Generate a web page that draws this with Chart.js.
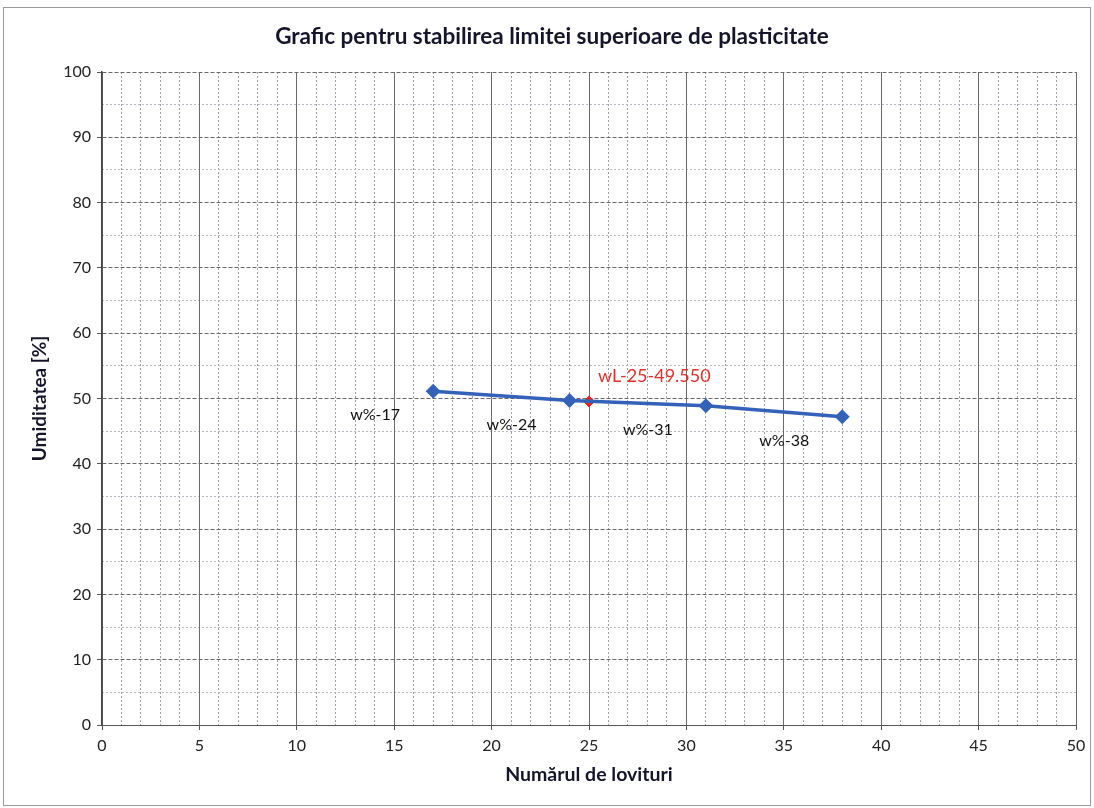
<!DOCTYPE html>
<html>
<head>
<meta charset="utf-8">
<script src="https://cdn.jsdelivr.net/npm/chart.js@4/dist/chart.umd.min.js"></script>
<style>
  html, body { margin: 0; padding: 0; background: #fff; }
  #wrap { width: 1094px; height: 808px; }
</style>
</head>
<body>
<div id="wrap"><canvas id="c" width="1094" height="808"></canvas></div>
<script>
const blows = [17, 24, 31, 38];
const moisture = [51.1, 49.7, 48.9, 47.2];
const pointLabels = ['w%-17', 'w%-24', 'w%-31', 'w%-38'];
const wLBlows = [25];
const wLValue = [49.55];
const wLLabels = ['wL-25-49.550'];
const xTicksMajor = [0, 5, 10, 15, 20, 25, 30, 35, 40, 45, 50];
const yTicksMajor = [0, 10, 20, 30, 40, 50, 60, 70, 80, 90, 100];

const FONT = 'Lato, "Liberation Sans", sans-serif';

const frame = {
  id: 'frame',
  beforeDraw(chart) {
    const ctx = chart.ctx;
    ctx.save();
    ctx.fillStyle = '#fff';
    ctx.fillRect(0, 0, chart.width, chart.height);
    ctx.strokeStyle = '#9a9a9a';
    ctx.lineWidth = 1;
    ctx.strokeRect(3.5, 7.5, 1087, 798);
    ctx.restore();
  }
};

const labelsPlugin = {
  id: 'pointTexts',
  afterDatasetsDraw(chart) {
    const ctx = chart.ctx;
    ctx.save();
    ctx.font = '16px ' + FONT;
    ctx.textBaseline = 'middle';
    const m0 = chart.getDatasetMeta(0);
    ctx.fillStyle = '#111';
    ctx.textAlign = 'center';
    m0.data.forEach((el, i) => {
      ctx.fillText(pointLabels[i], el.x - 58, el.y + 24);
    });
    const m1 = chart.getDatasetMeta(1);
    ctx.font = '18px ' + FONT;
    ctx.fillStyle = '#e0302a';
    ctx.textAlign = 'left';
    m1.data.forEach((el, i) => {
      ctx.fillText(wLLabels[i], el.x + 9, el.y - 25);
    });
    ctx.restore();
  }
};

new Chart(document.getElementById('c'), {
  type: 'scatter',
  data: {
    datasets: [
      {
        data: blows.map((b, i) => ({ x: b, y: moisture[i] })),
        showLine: true,
        borderColor: '#3462b8',
        backgroundColor: '#3462b8',
        borderWidth: 3.5,
        pointStyle: 'rectRot',
        pointRadius: 5,
        pointHoverRadius: 5,
        xAxisID: 'x',
        yAxisID: 'y'
      },
      {
        data: wLBlows.map((b, i) => ({ x: b, y: wLValue[i] })),
        showLine: false,
        borderColor: '#e02a20',
        backgroundColor: '#e02a20',
        pointStyle: 'rectRot',
        pointRadius: 5.5,
        pointHoverRadius: 5.5,
        xAxisID: 'x',
        yAxisID: 'y'
      }
    ]
  },
  options: {
    responsive: false,
    animation: false,
    devicePixelRatio: 1,
    layout: { padding: { left: 28, right: 18, top: 0, bottom: 0 } },
    plugins: {
      legend: { display: false },
      tooltip: { enabled: false },
      title: {
        display: true,
        text: 'Grafic pentru stabilirea limitei superioare de plasticitate',
        color: '#14142a',
        font: { family: FONT, size: 22.5, weight: 'bold' },
        padding: { top: 23.5, bottom: 21.5 }
      }
    },
    scales: {
      x2: {
        type: 'linear', position: 'bottom', min: 0, max: 50,
        afterFit(s) { s.height = 0; },
        ticks: { display: false, stepSize: 1 },
        grid: {
          drawTicks: false,
          color: (c) => (c.tick && c.tick.value % 5 === 0) ? 'rgba(0,0,0,0)' : '#9c9cb0',
          lineWidth: 1
        },
        border: { display: false, dash: [2, 2] }
      },
      y2: {
        type: 'linear', position: 'left', min: 0, max: 100,
        afterFit(s) { s.width = 0; },
        ticks: { display: false, stepSize: 5 },
        grid: {
          drawTicks: false,
          color: (c) => (c.tick && c.tick.value % 10 === 0) ? 'rgba(0,0,0,0)' : '#b8b8c4',
          lineWidth: 1
        },
        border: { display: false, dash: [2, 2] }
      },
      x: {
        type: 'linear', position: 'bottom', min: 0, max: 50,
        afterFit(s) { s.height = 83; },
        afterBuildTicks(s) { s.ticks = xTicksMajor.map(v => ({ value: v })); },
        ticks: {
          color: '#222', padding: 6,
          font: { family: FONT, size: 16 },
          maxRotation: 0, autoSkip: false
        },
        grid: { color: '#6a6a6a', lineWidth: 1, tickLength: 5, tickColor: '#555' },
        border: { display: true, color: '#555', width: 1 },
        title: {
          display: true, text: 'Numărul de lovituri', color: '#14142a',
          font: { family: FONT, size: 19.5, weight: 'bold' },
          padding: { top: 0, bottom: 21.5 }
        }
      },
      y: {
        type: 'linear', position: 'left', min: 0, max: 100,
        afterFit(s) { s.width = 74; },
        afterBuildTicks(s) { s.ticks = yTicksMajor.map(v => ({ value: v })); },
        ticks: {
          color: '#222', padding: 6,
          font: { family: FONT, size: 16 },
          autoSkip: false
        },
        grid: { color: '#6a6a6a', lineWidth: 1, tickLength: 5, tickColor: '#555' },
        border: { display: true, color: '#444', width: 1.5, dash: [4, 2] },
        title: {
          display: true, text: 'Umiditatea [%]', color: '#14142a',
          font: { family: FONT, size: 19, weight: 'bold' },
          padding: { top: 0, bottom: 0 }
        }
      }
    }
  },
  plugins: [frame, labelsPlugin]
});
</script>
</body>
</html>
